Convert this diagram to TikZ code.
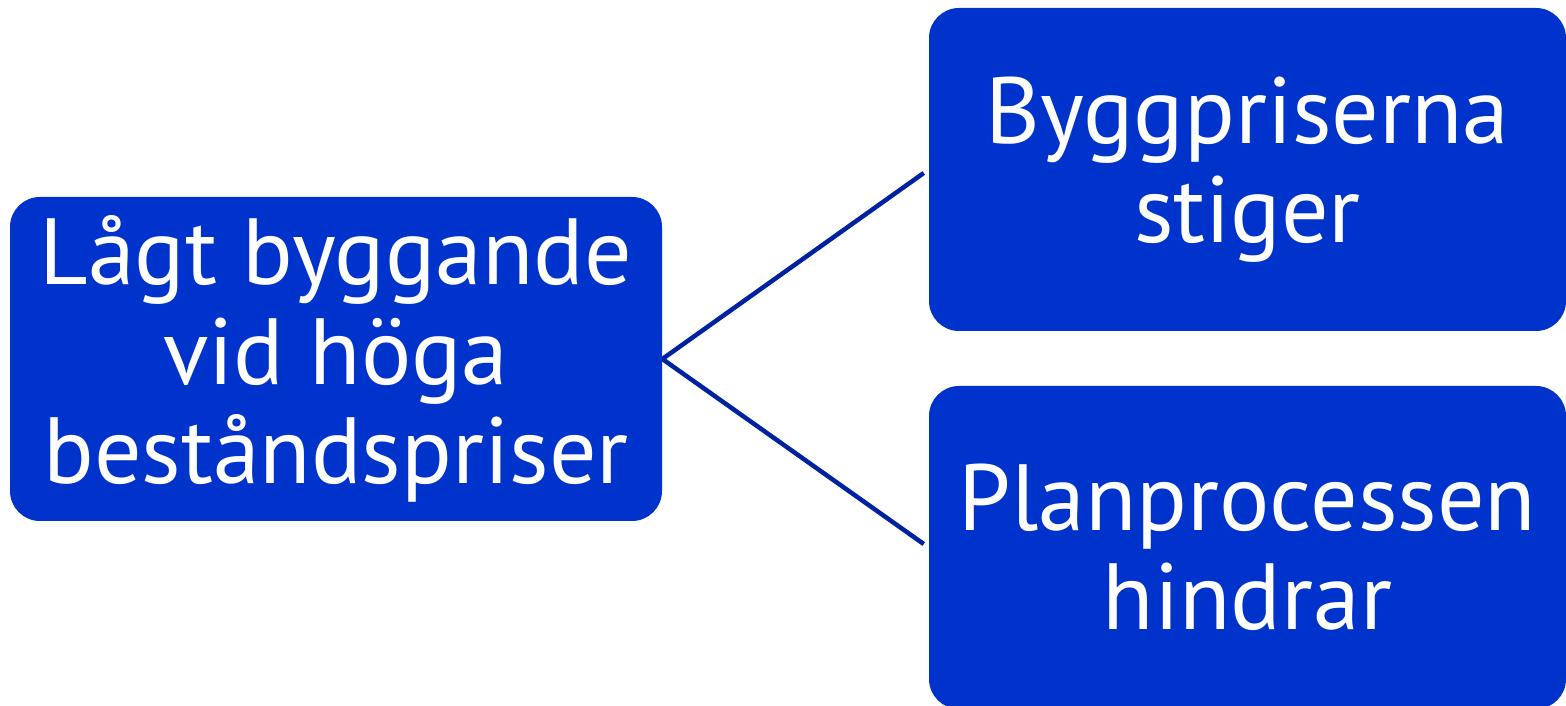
\documentclass[tikz,border=0pt]{standalone}
\usepackage{fontspec}
\setmainfont{PT Sans}
\definecolor{boxblue}{RGB}{0,51,204}
\definecolor{lineblue}{RGB}{0,34,160}
\begin{document}
\begin{tikzpicture}[node distance={7.56cm}, main/.style = {fill=boxblue, rounded corners=0.6cm, minimum width=13.04cm, minimum height=6.48cm, text=white, align=center, font=\fontsize{53.5}{56.5}\selectfont}] 
\useasboundingbox (0,0) rectangle (31.32,14.12);
\node[main] (1) at (6.72,6.94) {Lågt byggande\\vid höga\\beståndspriser}; 
\node[main, minimum width=12.74cm, minimum height=6.46cm] (2) at (24.95,10.73) {Byggpriserna\\stiger}; 
\node[main, minimum width=12.74cm, minimum height=6.46cm] (3) [below of=2] {Planprocessen\\hindrar}; 

\draw[lineblue, line width=0.09cm, shorten >=0.12cm] (1.east) -- (2.west); 
\draw[lineblue, line width=0.09cm, shorten >=0.12cm] (1.east) -- (3.west); 
\end{tikzpicture}
\end{document}
